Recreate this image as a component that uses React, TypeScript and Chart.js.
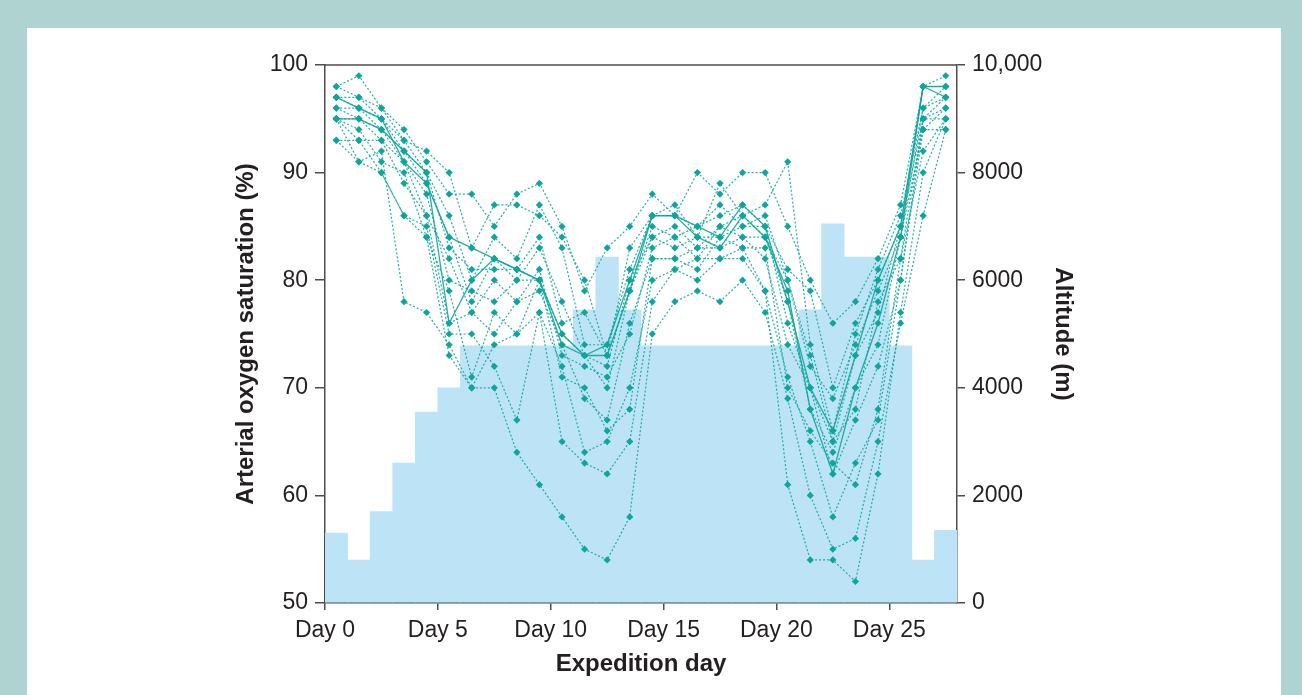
import React, { useEffect, useRef } from 'react';
import { Chart, registerables } from 'chart.js';

Chart.register(...registerables);

// Expedition days (columns)
const DAYS = [0, 1, 2, 3, 4, 5, 6, 7, 8, 9, 10, 11, 12, 13, 14, 15, 16, 17, 18, 19, 20, 21, 22, 23, 24, 25, 26, 27];
const X_TICKS = [0, 5, 10, 15, 20, 25];

// Altitude (m) per day – bars on right axis
const ALTITUDE = [1300, 800, 1700, 2600, 3550, 4000, 4780, 4780, 4780, 4780, 4780, 5450, 6430, 5450, 4780, 4780, 4780, 4780, 4780, 4780, 4780, 5450, 7050, 6430, 6430, 4780, 800, 1350];

// Arterial oxygen saturation (%) per subject (dotted)
const SUBJ_A = [98, 99, 96, 94, 91, 88, 88, 85, 88, 89, 85, 79, 83, 85, 88, 86, 90, 88, 90, 90, 85, 80, 76, 78, 82, 87, 98, 99];
const SUBJ_B = [98, 97, 96, 93, 92, 90, 83, 87, 87, 86, 84, 80, 73, 83, 86, 87, 84, 89, 86, 87, 91, 74, 66, 75, 81, 86, 96, 98];
const SUBJ_C = [97, 97, 95, 93, 90, 86, 80, 84, 82, 87, 83, 74, 74, 81, 86, 86, 85, 86, 87, 85, 81, 79, 70, 76, 80, 85, 98, 98];
const SUBJ_D = [97, 96, 95, 92, 90, 83, 81, 81, 81, 84, 76, 77, 73, 79, 85, 84, 85, 87, 85, 86, 80, 72, 69, 74, 79, 84, 96, 97];
const SUBJ_E = [96, 96, 94, 92, 89, 84, 78, 82, 80, 83, 78, 73, 72, 80, 84, 85, 83, 85, 86, 84, 80, 73, 65, 73, 77, 85, 95, 96];
const SUBJ_F = [96, 95, 94, 91, 88, 80, 79, 78, 80, 80, 75, 73, 70, 79, 84, 83, 84, 84, 85, 85, 76, 70, 65, 68, 78, 82, 95, 97];
const SUBJ_G = [95, 95, 93, 91, 86, 82, 77, 80, 78, 81, 73, 72, 71, 75, 83, 84, 82, 85, 84, 84, 78, 68, 64, 70, 74, 84, 94, 96];
const SUBJ_H = [95, 93, 93, 89, 86, 76, 77, 75, 78, 79, 74, 69, 67, 76, 82, 82, 83, 83, 84, 82, 74, 70, 62, 67, 72, 80, 95, 95];
const SUBJ_I = [95, 94, 91, 90, 84, 79, 71, 77, 75, 80, 71, 70, 66, 68, 82, 82, 81, 84, 83, 83, 70, 66, 63, 61, 68, 82, 92, 95];
const SUBJ_J = [95, 91, 92, 78, 77, 74, 70, 74, 75, 77, 72, 64, 65, 70, 80, 81, 82, 82, 83, 79, 71, 65, 58, 63, 67, 80, 94, 94];
const SUBJ_K = [93, 93, 90, 86, 85, 75, 75, 72, 67, 77, 65, 63, 62, 65, 78, 81, 80, 82, 82, 79, 61, 54, 54, 52, 62, 77, 90, 95];
const SUBJ_L = [93, 91, 90, 86, 84, 73, 70, 70, 64, 61, 58, 55, 54, 58, 75, 78, 79, 78, 80, 77, 69, 60, 55, 56, 65, 76, 86, 94];
// Solid-line subjects
const SOLID_1 = [95, 95, 94, 92, 90, 76, 80, 82, 81, 80, 75, 73, 73, 79, 86, 86, 85, 84, 87, 85, 78, 70, 66, 73, 80, 85, 98, 97];
const SOLID_2 = [97, 96, 95, 91, 89, 84, 83, 82, 81, 80, 74, 73, 74, 80, 86, 86, 84, 83, 86, 84, 79, 68, 62, 70, 76, 84, 98, 98];

const DOTTED = [SUBJ_A, SUBJ_B, SUBJ_C, SUBJ_D, SUBJ_E, SUBJ_F, SUBJ_G, SUBJ_H, SUBJ_I, SUBJ_J, SUBJ_K, SUBJ_L];
const SOLID = [SOLID_1, SOLID_2];

const TEAL = '#0ea59c';
const LINE = 'rgba(14,165,156,0.9)';
const BAR = '#bde4f6';
const AXIS = '#4d4d4d';
const TEXT = '#231f20';
const FONT = '"Liberation Sans", Arial, Helvetica, sans-serif';

export default function App() {
  const ref = useRef<HTMLCanvasElement>(null);

  useEffect(() => {
    document.body.style.margin = '0';
    const canvas = ref.current;
    if (!canvas) return;
    const pts = (vals: number[]) => vals.map((v, i) => ({ x: DAYS[i] + 0.5, y: v }));

    const lineDs = (vals: number[], solid: boolean) => ({
      type: 'line' as const,
      data: pts(vals),
      xAxisID: 'x',
      yAxisID: 'y',
      borderColor: LINE,
      borderWidth: solid ? 1.3 : 1.2,
      borderDash: solid ? [] : [2, 2],
      pointStyle: 'rectRot',
      pointRadius: 3.6,
      pointBackgroundColor: TEAL,
      pointBorderColor: TEAL,
      pointBorderWidth: 0,
      fill: false,
      tension: 0,
      order: 1,
    });

    const boxPlugin = {
      id: 'topBorder',
      afterDraw(chart: any) {
        const { ctx, chartArea } = chart;
        ctx.save();
        ctx.strokeStyle = AXIS;
        ctx.lineWidth = 1.5;
        ctx.beginPath();
        ctx.moveTo(chartArea.left, chartArea.top);
        ctx.lineTo(chartArea.right, chartArea.top);
        ctx.stroke();
        ctx.restore();
      },
    };

    const tickFont = { family: FONT, size: 23 };
    const titleFont = { family: FONT, size: 24, weight: 'bold' as const };

    const chart = new Chart(canvas, {
      type: 'bar',
      data: {
        datasets: [
          ...DOTTED.map((s) => lineDs(s, false)),
          ...SOLID.map((s) => lineDs(s, true)),
          {
            type: 'bar' as const,
            data: pts(ALTITUDE),
            xAxisID: 'x',
            yAxisID: 'y2',
            backgroundColor: BAR,
            borderWidth: 0,
            barPercentage: 1,
            categoryPercentage: 1,
            order: 10,
          },
        ] as any,
      },
      options: {
        responsive: false,
        animation: false,
        devicePixelRatio: 1,
        layout: { padding: { left: 232, right: 225, top: 65, bottom: 16 } },
        plugins: { legend: { display: false }, tooltip: { enabled: false } },
        scales: {
          x: {
            type: 'linear',
            min: 0,
            max: 28,
            offset: false,
            z: 1,
            afterBuildTicks: (s: any) => {
              s.ticks = X_TICKS.map((v) => ({ value: v }));
            },
            afterFit: (s: any) => {
              s.height = 76;
            },
            ticks: {
              callback: (v: any) => 'Day ' + v,
              font: tickFont,
              color: TEXT,
              padding: 7,
              maxRotation: 0,
              autoSkip: false,
            },
            grid: { drawOnChartArea: false, drawTicks: true, tickLength: 7, color: AXIS, lineWidth: 1.5, offset: false },
            border: { color: AXIS, width: 1.5 },
            title: { display: true, text: 'Expedition day', font: titleFont, color: TEXT, padding: 0 },
          },
          y: {
            position: 'left',
            min: 50,
            max: 100,
            z: 1,
            afterFit: (s: any) => {
              s.width = 93;
            },
            ticks: { stepSize: 10, font: tickFont, color: TEXT, padding: 7 },
            grid: { drawOnChartArea: false, drawTicks: true, tickLength: 10, color: AXIS, lineWidth: 1.5 },
            border: { color: AXIS, width: 1.5 },
            title: { display: true, text: 'Arterial oxygen saturation (%)', font: titleFont, color: TEXT, padding: 0 },
          },
          y2: {
            position: 'right',
            min: 0,
            max: 10000,
            z: 1,
            afterFit: (s: any) => {
              s.width = 120;
            },
            ticks: {
              stepSize: 2000,
              font: tickFont,
              color: TEXT,
              padding: 7,
              callback: (v: any) => (v === 10000 ? '10,000' : String(v)),
            },
            grid: { drawOnChartArea: false, drawTicks: true, tickLength: 8, color: AXIS, lineWidth: 1.5 },
            border: { color: AXIS, width: 1.5 },
            title: { display: true, text: 'Altitude (m)', font: titleFont, color: TEXT, padding: 0 },
          },
        },
      } as any,
      plugins: [boxPlugin],
    });

    return () => chart.destroy();
  }, []);

  return (
    <div style={{ position: 'relative', width: 1302, height: 695, background: '#aed3d0', overflow: 'hidden' }}>
      <div style={{ position: 'absolute', left: 27, top: 28, width: 1254, height: 667, background: '#ffffff' }} />
      <canvas ref={ref} width={1302} height={695} style={{ position: 'absolute', left: 0, top: 0, width: 1302, height: 695 }} />
    </div>
  );
}
